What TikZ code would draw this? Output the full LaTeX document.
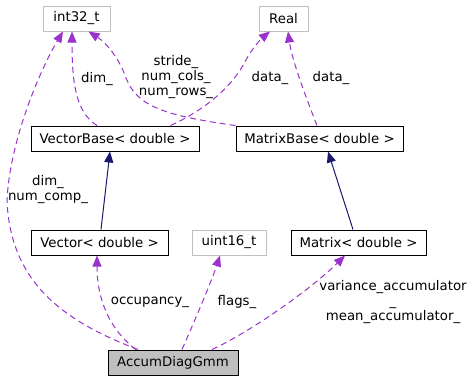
\documentclass[tikz,border=0pt]{standalone}
\usepackage{fontspec}
\setmainfont{DejaVu Sans}
\usepackage{tikz}
\usetikzlibrary{arrows.meta}
\definecolor{orchid}{HTML}{9A32CD}
\definecolor{navy}{HTML}{191970}
\definecolor{boxgray}{HTML}{BFBFBF}

\tikzset{
	cls/.style={draw=black, line width=1pt, minimum height=25pt, inner sep=0pt},
	ext/.style={draw=boxgray, line width=1pt, minimum height=25pt, inner sep=0pt},
	member/.style={orchid, line width=1pt, dash pattern=on 6pt off 4pt, -{Triangle[length=11pt,width=9pt]}},
	inherit/.style={navy, line width=1pt, -{Triangle[length=11pt,width=9pt]}},
	lbl/.style={align=center, inner sep=0pt}
}

\begin{document}
\begin{tikzpicture}[x=1pt, y=-1pt, font=\fontsize{13.3}{15}\selectfont]
				\useasboundingbox (0,0) rectangle (470,381);
				% classes
				\node[ext, minimum width=67pt] (int32) at (76.5,18.5) {int32\_t};
				\node[ext, minimum width=49pt] (real) at (283.5,18.5) {Real};
				\node[cls, minimum width=168pt] (vecbase) at (115,138.5) {VectorBase< double >};
				\node[cls, minimum width=167pt] (matbase) at (319.5,138.5) {MatrixBase< double >};
				\node[cls, minimum width=137pt] (vector) at (99.5,242.5) {Vector< double >};
				\node[ext, minimum width=74pt] (uint16) at (229,242.5) {uint16\_t};
				\node[cls, minimum width=135pt] (matrix) at (358.5,242.5) {Matrix< double >};
				\node[cls, fill=boxgray, minimum width=130pt] (accum) at (173,362.5) {AccumDiagGmm};
				% inheritance
				\draw[inherit] ([xshift=1.5pt]vector.north) -- ([xshift=-5pt]vecbase.south);
				\draw[inherit] ([xshift=-5.5pt]matrix.north) -- ([xshift=8.5pt]matbase.south);
				% members of the base classes
				\draw[member] ([xshift=-18pt]vecbase.north) .. controls (75,112) and (72,80) .. ([xshift=-4.5pt]int32.south);
				\draw[member] (matbase.north west) .. controls (160,115) and (135,105) .. (125,75)
					.. controls (117,55) and (105,42) .. ([xshift=12pt]int32.south);
				\draw[member] ([xshift=-29pt]vecbase.north east) .. controls (215,105) and (235,80) .. (245,62)
					.. controls (252,48) and (262,38) .. ([xshift=-13.5pt]real.south);
				\draw[member] ([xshift=-2.5pt]matbase.north) .. controls (305,95) and (292,60) .. ([xshift=4.5pt]real.south);
				\node[lbl] (ldim) at (97,79) {dim\_};
				\node[lbl] (lstride) at (176,77) {stride\_\\num\_cols\_\\num\_rows\_};
				\node[lbl] (ldata) at (270,78) {data\_};
				\node[lbl] (ldatam) at (331,78) {data\_};
				% members of AccumDiagGmm
				\draw[member] ([xshift=-35pt]accum.north) .. controls (60,320) and (10,280) .. (7,200)
					.. controls (10,140) and (40,70) .. ([xshift=-13.5pt]int32.south);
				\draw[member] ([xshift=-37pt]accum.north) .. controls (110,330) and (97,300) .. ([xshift=-2.5pt]vector.south);
				\draw[member] ([xshift=9pt]accum.north) .. controls (195,320) and (212,280) .. ([xshift=-9pt]uint16.south);
				\draw[member] ([xshift=39pt]accum.north) .. controls (250,332) and (310,290) .. ([xshift=-13.5pt]matrix.south);
				\node[lbl] (lcomp) at (48,190) {dim\_\\num\_comp\_};
				\node[lbl] (locc) at (150,302) {occupancy\_};
				\node[lbl] (lflags) at (237,302) {flags\_};
				\node[lbl] (lacc) at (393,302) {variance\_accumulator\\\_\\mean\_accumulator\_};
\end{tikzpicture}
\end{document}
